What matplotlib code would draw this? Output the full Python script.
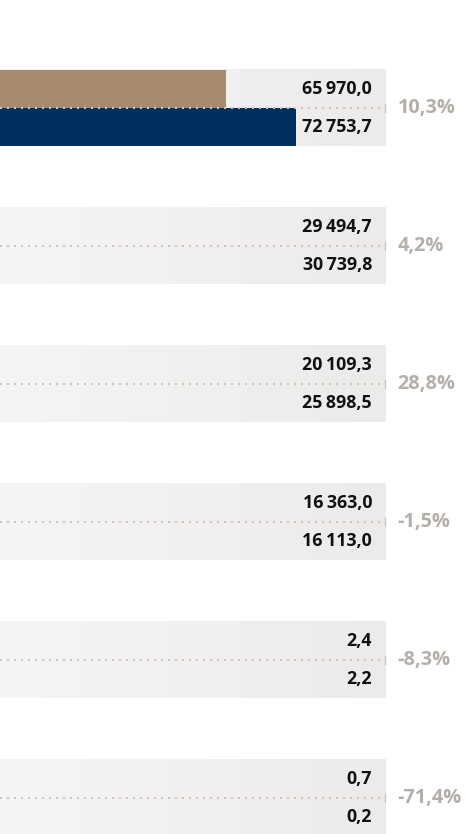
import matplotlib.pyplot as plt
import numpy as np

# 数据 (前一年 / 当年)
prev_vals = [65970.0, 29494.7, 20109.3, 16363.0, 2.4, 0.7]
curr_vals = [72753.7, 30739.8, 25898.5, 16113.0, 2.2, 0.2]
change_pct = [10.3, 4.2, 28.8, -1.5, -8.3, -71.4]

prev_color = '#a68a6d'
curr_color = '#00305f'
dot_color = '#c9c5c1'
pct_color = '#b5afaa'

band_end = 81400      # 背景条右端
xmin, xmax = 44070, 89130
bar_h = 0.2754


def fmt(v):
    s = f"{v:,.1f}"
    return s.replace(',', '\u2009').replace('.', ',')


fig = plt.figure(figsize=(4.65, 8.34), dpi=100)
ax = fig.add_axes((0, 0, 1, 1))
ax.axis('off')

grad = np.linspace(0, 1, 256).reshape(1, -1)
cmap = plt.matplotlib.colors.LinearSegmentedColormap.from_list('g', ['#f6f5f5', '#edebea'])

y = np.arange(len(prev_vals))
for i in y:
    ax.imshow(grad, cmap=cmap, extent=(xmin, band_end, i + bar_h, i - bar_h),
              aspect='auto', zorder=0)

ax.barh(y - bar_h / 2, prev_vals, height=bar_h, color=prev_color, zorder=1)
ax.barh(y + bar_h / 2, curr_vals, height=bar_h, color=curr_color, zorder=1)
ax.set_xlim(xmin, xmax)
ax.set_ylim(5.261, -0.783)

font = ['Open Sans', 'DejaVu Sans']
for i in y:
    ax.plot([xmin, band_end], [i, i], color=dot_color, lw=1.44,
            ls=(0, (1, 2.5)), zorder=2)
    ax.plot([band_end, band_end], [i - 0.03, i + 0.03], color=dot_color, lw=1, zorder=2)
    ax.annotate(fmt(prev_vals[i]), (band_end, i - bar_h / 2), xytext=(-9.5, 0),
                textcoords='offset points', ha='right', va='center',
                fontsize=12.8, fontweight='bold', family=font,
                color='#111111', zorder=3)
    ax.annotate(fmt(curr_vals[i]), (band_end, i + bar_h / 2), xytext=(-9.5, 0),
                textcoords='offset points', ha='right', va='center',
                fontsize=12.8, fontweight='bold', family=font,
                color='#111111', zorder=3)
    ax.annotate(f"{change_pct[i]:.1f}%".replace('.', ','), (band_end, i), xytext=(9, 0),
                textcoords='offset points', ha='left', va='center',
                fontsize=14.3, fontweight='bold', family=font,
                color=pct_color, zorder=3)

fig.savefig('out.png', dpi=100)
